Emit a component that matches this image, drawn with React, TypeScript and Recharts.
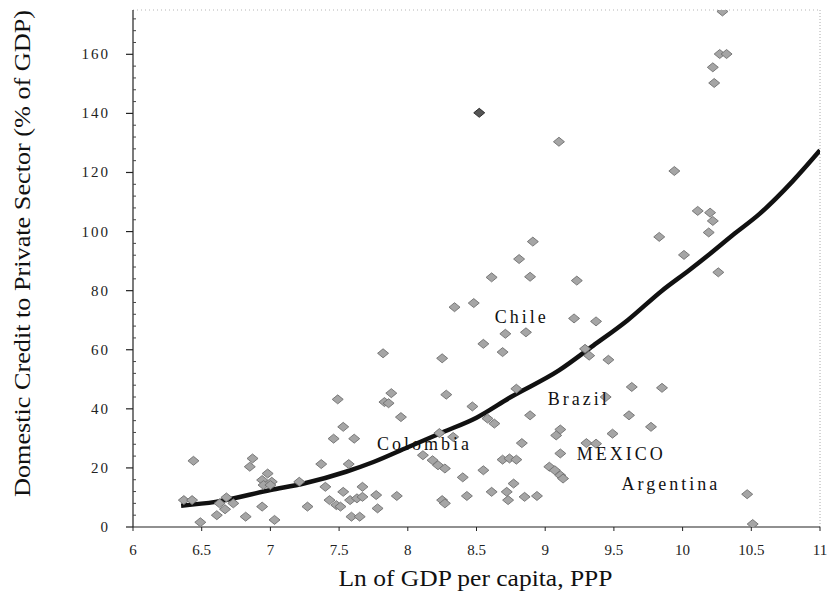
import { ComposedChart, Scatter, Line, XAxis, YAxis, ReferenceLine } from 'recharts';

// Ln GDP per capita (PPP) and private credit (% of GDP), one entry per country
const lnGdp = [
  6.44, 6.37, 6.43, 6.49, 6.68, 6.63, 6.61, 6.73, 6.67, 6.82,
  6.87, 6.85, 6.98, 6.94, 7.01, 6.95, 7.0, 6.94, 7.03, 7.21,
  7.27, 7.37, 7.4, 7.49, 7.53, 7.46, 7.61, 7.57, 7.43, 7.48,
  7.53, 7.58, 7.63, 7.67, 7.67, 7.51, 7.59, 7.65, 7.77, 7.78,
  7.82, 7.88, 7.83, 7.86, 7.95, 7.92, 8.25, 8.28, 8.47, 8.34,
  8.48, 8.23, 8.33, 8.11, 8.18, 8.22, 8.27, 8.4, 8.43, 8.25,
  8.27, 8.55, 8.61, 8.89, 9.23, 10.26, 9.21, 9.37, 8.71, 8.86,
  8.55, 8.69, 9.29, 9.32, 9.46, 8.79, 9.63, 9.85, 8.58, 8.63,
  8.89, 9.44, 9.61, 9.77, 9.49, 9.11, 9.08, 8.83, 8.69, 8.74,
  8.79, 9.11, 9.3, 9.37, 9.03, 9.07, 9.11, 9.13, 8.77, 8.61,
  8.72, 8.73, 8.85, 8.94, 10.47, 10.51, 10.29, 10.27, 10.32, 10.22,
  10.23, 9.1, 9.94, 10.11, 10.2, 10.22, 10.19, 9.83, 10.01, 8.91,
  8.81,
];
const privateCredit = [
  22.4, 9.1, 9.1, 1.6, 10, 8, 4, 8, 6, 3.5,
  23.2, 20.4, 18.1, 15.9, 15.3, 14.2, 14.2, 6.9, 2.4, 15.3,
  6.9, 21.3, 13.6, 43.2, 33.9, 29.9, 29.9, 21.3, 9.1, 7.4,
  11.9, 9.1, 9.7, 13.6, 10.2, 6.9, 3.5, 3.5, 10.8, 6.3,
  58.8, 45.3, 42.3, 41.9, 37.2, 10.5, 57.1, 44.8, 40.8, 74.4,
  75.8, 31.8, 30.5, 24.3, 22.6, 20.9, 19.8, 16.8, 10.5, 9.1,
  8.0, 19.2, 84.5, 84.7, 83.4, 86.2, 70.6, 69.6, 65.4, 65.9,
  62.0, 59.2, 60.3, 58.0, 56.6, 46.8, 47.4, 47.1, 36.7, 35.0,
  37.8, 44.0, 37.8, 33.9, 31.6, 33.0, 31.0, 28.4, 22.8, 23.2,
  22.8, 24.9, 28.4, 28.2, 20.4, 19.2, 17.5, 16.4, 14.7, 11.9,
  11.9, 9.1, 10.2, 10.5, 11.1, 1.0, 174.5, 160.1, 160.1, 155.6,
  150.3, 130.4, 120.5, 107.0, 106.4, 103.6, 99.7, 98.2, 92.1, 96.6,
  90.7,
];

// overlapping observations that print darker
const stackedLnGdp = [8.52];
const stackedCredit = [140.2];

// fitted relationship
const fitLnGdp = [6.35, 6.6, 7.0, 7.25, 7.55, 7.75, 8.0, 8.25, 8.5, 8.75, 9.1, 9.35, 9.6, 9.85, 10.05, 10.2, 10.37, 10.56, 10.8, 11.0];
const fitCredit = [7.2, 8.5, 12.5, 14.8, 18.7, 22.0, 27.0, 32.0, 37.0, 44.0, 53.0, 61.4, 70.0, 80.0, 87.0, 92.5, 99.0, 106.0, 117.0, 127.5];

// country annotations, anchored at the start of each name
const countryNames = ['Chile', 'Colombia', 'Brazil', 'MEXICO', 'Argentina'];
const countryLnGdp = [8.633, 7.775, 9.018, 9.229, 9.556];
const countryCredit = [68.9, 26.0, 41.2, 22.6, 12.5];

const xTicks = [6, 6.5, 7, 7.5, 8, 8.5, 9, 9.5, 10, 10.5, 11];
const yTicks = Array.from({ length: 44 }, (_, i) => i * 4);

const points = lnGdp.map((x, i) => ({ x, y: privateCredit[i] }));
const stacked = stackedLnGdp.map((x, i) => ({ x, y: stackedCredit[i] }));
const fit = fitLnGdp.map((x, i) => ({ x, y: fitCredit[i] }));
const countries = countryNames.map((name, i) => ({ name, x: countryLnGdp[i], y: countryCredit[i] }));

const serif = { fontFamily: "'Liberation Serif', 'Times New Roman', 'DejaVu Serif', serif" };

function Diamond({ cx, cy, fill, stroke }: any) {
  if (cx == null || cy == null) return null;
  return (
    <path
      d={`M${cx - 5.5},${cy} L${cx},${cy - 4.5} L${cx + 5.5},${cy} L${cx},${cy + 4.5} Z`}
      fill={fill}
      stroke={stroke}
      strokeWidth={0.9}
    />
  );
}

function CountryName({ cx, cy, payload }: any) {
  return (
    <text x={cx} y={cy} style={serif} fontSize={18} letterSpacing={3} fill="#111">
      {payload.name}
    </text>
  );
}

function YTick({ x, y, payload }: any) {
  const major = payload.value % 20 === 0;
  if (!major) {
    return <line x1={x} x2={x + 3} y1={y} y2={y} stroke="#444" strokeWidth={1} />;
  }
  return (
    <g>
      <line x1={x - 7} x2={x} y1={y} y2={y} stroke="#222" strokeWidth={1.2} />
      <text x={x - 23} y={y} dy={5} textAnchor="end" style={serif} fontSize={15} letterSpacing={2} fill="#222">
        {payload.value}
      </text>
    </g>
  );
}

function XTick({ x, y, payload }: any) {
  return (
    <g>
      <line x1={x} x2={x} y1={y} y2={y + 4} stroke="#222" strokeWidth={1} />
      <text x={x} y={y + 28} textAnchor="middle" style={serif} fontSize={15} fill="#222">
        {payload.value}
      </text>
    </g>
  );
}

function YTitle({ viewBox }: any) {
  const top = viewBox?.y ?? 10;
  const h = viewBox?.height ?? 517;
  const cx = 22;
  const cy = top + h / 2 - 15;
  return (
    <text
      x={cx}
      y={cy}
      transform={`rotate(-90, ${cx}, ${cy})`}
      textAnchor="middle"
      dominantBaseline="central"
      style={serif}
      fontSize={23}
      textLength={487}
      lengthAdjust="spacingAndGlyphs"
      fill="#111"
    >
      Domestic Credit to Private Sector (% of GDP)
    </text>
  );
}

function XTitle({ viewBox }: any) {
  const left = viewBox?.x ?? 133;
  const w = viewBox?.width ?? 687;
  const top = viewBox?.y ?? 527;
  return (
    <text
      x={left + w / 2 - 1}
      y={top + 59}
      textAnchor="middle"
      style={serif}
      fontSize={24}
      textLength={274}
      lengthAdjust="spacingAndGlyphs"
      fill="#111"
    >
      Ln of GDP per capita, PPP
    </text>
  );
}

export default function App() {
  return (
    <div style={{ position: 'absolute', left: 0, top: 0, background: '#fff' }}>
      <ComposedChart width={832} height={602} margin={{ top: 10, right: 12, bottom: 0, left: 0 }}>
        <XAxis
          type="number"
          dataKey="x"
          domain={[6, 11]}
          ticks={xTicks}
          interval={0}
          allowDataOverflow
          height={75}
          tickSize={0}
          tickMargin={0}
          tickLine={false}
          axisLine={{ stroke: '#222', strokeWidth: 1.2 }}
          tick={<XTick />}
          label={<XTitle />}
        />
        <YAxis
          type="number"
          dataKey="y"
          domain={[0, 175]}
          ticks={yTicks}
          interval={0}
          allowDataOverflow
          width={133}
          tickSize={0}
          tickMargin={0}
          tickLine={false}
          axisLine={{ stroke: '#222', strokeWidth: 1.2 }}
          tick={<YTick />}
          label={<YTitle />}
        />
        <ReferenceLine y={175} stroke="#b5b5b5" strokeDasharray="1 3" />
        <ReferenceLine x={11} stroke="#aaa" strokeDasharray="1 2" />
        <Scatter
          data={points}
          isAnimationActive={false}
          shape={(p: any) => <Diamond {...p} fill="#a5a5a5" stroke="#6f6f6f" />}
        />
        <Scatter
          data={stacked}
          isAnimationActive={false}
          shape={(p: any) => <Diamond {...p} fill="#555" stroke="#222" />}
        />
        <Line
          data={fit}
          dataKey="y"
          type="monotone"
          stroke="#111"
          strokeWidth={4.5}
          dot={false}
          isAnimationActive={false}
        />
        <Scatter data={countries} isAnimationActive={false} shape={<CountryName />} />
      </ComposedChart>
    </div>
  );
}
